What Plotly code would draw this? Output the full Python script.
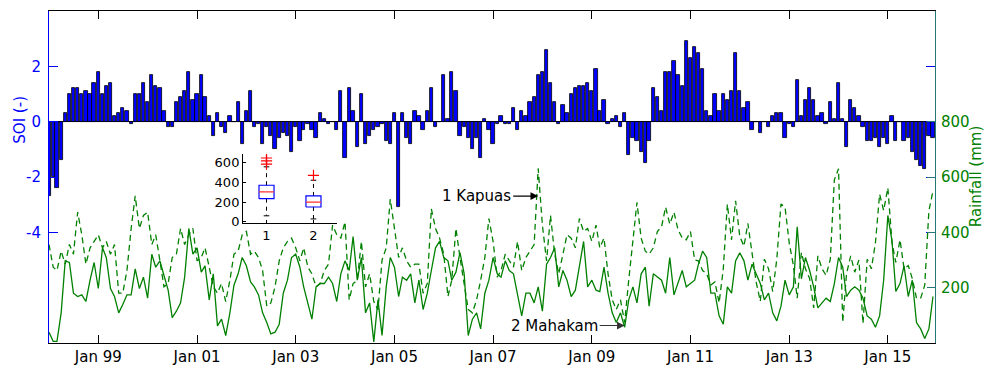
import plotly.graph_objects as go
import pandas as pd

# ---------------- data ----------------
dates = pd.date_range("1998-01-01", periods=216, freq="MS")

soi = [
    -2.7, -2.0, -2.4, -1.4, 0.3, 1.0, 1.2, 1.2, 1.0, 1.1, 1.0, 1.4,      # 1998
    1.8, 1.0, 1.3, 1.4, 0.2, 0.3, 0.5, 0.4, -0.1, 1.0, 1.0, 1.4,         # 1999
    0.7, 1.7, 1.3, 1.2, 0.4, -0.2, -0.2, 0.7, 0.9, 1.1, 1.8, 0.8,        # 2000
    1.0, 1.7, 0.9, 0.2, -0.5, 0.3, -0.2, -0.4, 0.2, 0.0, 0.7, -0.8,      # 2001
    0.4, 1.1, -0.2, -0.1, -0.8, -0.2, -0.5, -1.0, -0.6, -0.4, -0.5, -1.1,  # 2002
    -0.2, -0.7, -0.3, -0.1, -0.3, -0.6, 0.3, 0.1, -0.1, 0.0, -0.3, 1.1,  # 2003
    -1.3, 1.2, 0.4, -0.9, 1.0, -0.8, -0.5, -0.3, -0.2, -0.1, -0.7, -0.8,  # 2004
    0.3, -3.1, 0.3, -0.6, -0.8, 0.4, 0.2, -0.3, 0.4, 1.2, -0.2, 0.0,     # 2005
    1.7, 0.1, 1.8, 1.1, -0.5, -0.2, -0.6, -1.0, -0.6, -1.3, 0.1, -0.3,   # 2006
    -0.8, -0.1, 0.2, -0.1, -0.1, 0.5, -0.3, 0.4, 0.2, 0.7, 0.9, 1.7,     # 2007
    1.8, 2.6, 1.4, 0.7, -0.1, 0.6, 0.3, 1.0, 1.2, 1.3, 1.3, 1.4,         # 2008
    1.1, 1.9, 0.4, 0.8, -0.1, 0.1, 0.2, -0.2, 0.3, -1.2, -0.6, -0.7,     # 2009
    -1.1, -1.5, -0.7, 1.2, 0.9, 0.4, 1.8, 1.8, 2.2, 1.7, 1.3, 2.9,       # 2010
    2.3, 2.7, 2.5, 1.9, 0.4, 0.2, 1.0, 0.4, 1.0, 0.8, 1.1, 2.5,          # 2011
    1.1, 0.5, 0.7, -0.3, 0.0, -0.4, 0.0, -0.2, 0.2, 0.3, 0.3, -0.6,      # 2012
    -0.1, -0.2, 1.5, 0.2, 0.8, 1.2, 0.8, 0.2, 0.3, -0.1, 0.7, 0.1,       # 2013
    1.4, 0.1, -0.9, 0.8, 0.5, 0.2, -0.2, -0.7, -0.7, -0.6, -0.9, -0.6,   # 2014
    -0.8, 0.2, -0.7, 0.0, -0.7, -0.6, -1.1, -1.4, -1.6, -1.7, -0.5, -0.6,  # 2015
]

kapuas = [
    356, 274, 262, 332, 285, 356, 321, 473, 391, 285, 344, 367,
    391, 344, 367, 321, 356, 180, 180, 262, 414, 532, 414, 461,
    473, 356, 391, 297, 203, 215, 309, 321, 414, 356, 391, 414,
    297, 309, 344, 274, 203, 180, 215, 150, 227, 321, 332, 391,
    403, 321, 332, 309, 262, 133, 145, 203, 297, 344, 367, 379,
    344, 297, 344, 274, 250, 203, 215, 262, 285, 426, 391, 379,
    438, 156, 215, 227, 367, 203, 250, 150, 120, 300, 344, 520,
    414, 309, 344, 297, 274, 285, 285, 180, 215, 485, 414, 379,
    321, 168, 227, 414, 309, 215, 121, 109, 156, 227, 309, 450,
    367, 238, 262, 321, 297, 274, 367, 262, 309, 332, 356, 631,
    426, 297, 461, 321, 250, 321, 391, 379, 344, 450, 403, 414,
    367, 426, 344, 379, 250, 156, 121, 156, 74, 227, 379, 508,
    379, 332, 321, 344, 403, 420, 491, 430, 473, 409, 380, 373,
    403, 300, 297, 262, 250, 210, 221, 145, 268, 502, 373, 514,
    385, 350, 432, 327, 221, 151, 303, 268, 186, 303, 502, 491,
    362, 280, 162, 327, 268, 233, 127, 315, 268, 244, 303, 590,
    630, 75, 250, 315, 256, 300, 70, 303, 268, 362, 538, 479,
    561, 362, 291, 373, 268, 280, 233, 162, 162, 209, 479, 549,
]

mahakam = [
    39, 6, 6, 109, 297, 291, 180, 168, 174, 150, 227, 291,
    197, 344, 309, 197, 168, 109, 139, 174, 174, 268, 197, 238,
    162, 321, 274, 297, 244, 191, 92, 115, 145, 238, 414, 321,
    344, 256, 279, 156, 250, 62, 86, 27, 109, 209, 250, 309,
    279, 221, 203, 174, 109, 74, 33, 39, 68, 180, 227, 309,
    321, 274, 203, 145, 86, 203, 215, 215, 238, 215, 150, 250,
    297, 262, 385, 227, 309, 109, 145, 4, 156, 27, 203, 309,
    274, 168, 238, 227, 250, 145, 227, 121, 180, 262, 344, 367,
    309, 297, 227, 256, 327, 250, 27, 86, 109, 51, 180, 227,
    309, 250, 238, 297, 262, 250, 180, 98, 180, 180, 145, 203,
    115, 285, 309, 344, 203, 262, 227, 168, 191, 285, 367, 203,
    227, 191, 186, 274, 180, 109, 74, 109, 57, 156, 203, 145,
    250, 274, 133, 250, 238, 227, 180, 309, 174, 215, 262, 203,
    215, 227, 285, 332, 309, 180, 180, 98, 68, 203, 180, 297,
    326, 297, 227, 285, 250, 215, 156, 180, 109, 80, 133, 227,
    174, 203, 420, 232, 309, 262, 203, 127, 145, 162, 150, 215,
    309, 274, 168, 191, 203, 191, 162, 98, 86, 57, 98, 227,
    461, 367, 186, 215, 279, 168, 227, 74, 51, 16, 51, 168,
]

assert len(soi) == len(kapuas) == len(mahakam) == len(dates)

tick_dates = ["1999-01-01", "2001-01-01", "2003-01-01", "2005-01-01",
              "2007-01-01", "2009-01-01", "2011-01-01", "2013-01-01", "2015-01-01"]
tick_labels = ["Jan 99", "Jan 01", "Jan 03", "Jan 05", "Jan 07",
               "Jan 09", "Jan 11", "Jan 13", "Jan 15"]

soi_ticks = [-4, -2, 0, 2]
soi_tick_labels = ["-4", "-2", "0", "2"]
rain_ticks = [200, 400, 600, 800]

# inset boxplot statistics (1 = Kapuas, 2 = Mahakam)
box_pos = [1, 2]
box_low = [60, 28]
box_q1 = [235, 150]
box_med = [305, 200]
box_q3 = [372, 263]
box_high = [560, 423]
outlier_pos = [1, 1, 1, 2]
outlier_val = [587, 620, 650, 472]

# ---------------- styles ----------------
FONT = "DejaVu Sans"
BLUE = "#0000ff"
GREEN = "#008000"
RIGHT_LINE = "#23797a"
BOX_HW = 0.16
CAP_HW = 0.06
month_ms = 30.44 * 86400000

fig = go.Figure()

fig.add_trace(go.Bar(
    x=dates, y=soi, width=0.8 * month_ms,
    marker=dict(color=BLUE, line=dict(color="black", width=0.8)),
    xaxis="x", yaxis="y", showlegend=False,
))

fig.add_trace(go.Scatter(
    x=dates, y=kapuas, mode="lines",
    line=dict(color=GREEN, width=1.3, dash="6px,4px"),
    xaxis="x", yaxis="y2", showlegend=False,
))
fig.add_trace(go.Scatter(
    x=dates, y=mahakam, mode="lines",
    line=dict(color=GREEN, width=1.3),
    xaxis="x", yaxis="y2", showlegend=False,
))

# inset boxplot built from the statistics
for p, lo, q1, md, q3, hi in zip(box_pos, box_low, box_q1, box_med, box_q3, box_high):
    fig.add_trace(go.Scatter(
        x=[p, p, None, p, p], y=[q3, hi, None, q1, lo], mode="lines",
        line=dict(color="black", width=1, dash="4px,4px"),
        xaxis="x3", yaxis="y3", showlegend=False,
    ))
    fig.add_trace(go.Scatter(
        x=[p - CAP_HW, p + CAP_HW, None, p - CAP_HW, p + CAP_HW],
        y=[hi, hi, None, lo, lo], mode="lines",
        line=dict(color="black", width=1),
        xaxis="x3", yaxis="y3", showlegend=False,
    ))
    fig.add_trace(go.Scatter(
        x=[p - BOX_HW, p + BOX_HW, p + BOX_HW, p - BOX_HW, p - BOX_HW],
        y=[q1, q1, q3, q3, q1], mode="lines",
        line=dict(color=BLUE, width=1.2),
        xaxis="x3", yaxis="y3", showlegend=False,
    ))
    fig.add_trace(go.Scatter(
        x=[p - BOX_HW, p + BOX_HW], y=[md, md], mode="lines",
        line=dict(color="#ff3030", width=1.2),
        xaxis="x3", yaxis="y3", showlegend=False,
    ))

fig.add_trace(go.Scatter(
    x=outlier_pos, y=outlier_val, mode="markers",
    marker=dict(symbol="cross-thin", size=8, line=dict(color="red", width=1.2)),
    xaxis="x3", yaxis="y3", showlegend=False,
))

# annotations
kap_idx = 119
mah_idx = 140
annos = [
    dict(x=dates[kap_idx], y=531, xref="x", yref="y2", text="1 Kapuas",
         showarrow=True, ax=-25, ay=0, xanchor="right",
         arrowhead=2, arrowsize=1.4, arrowwidth=1.1, arrowcolor="black",
         font=dict(family=FONT, size=15, color="black")),
    dict(x=dates[mah_idx], y=63, xref="x", yref="y2", text="2 Mahakam",
         showarrow=True, ax=-25, ay=0, xanchor="right",
         arrowhead=2, arrowsize=1.4, arrowwidth=1.1, arrowcolor="#333333",
         font=dict(family=FONT, size=15, color="black")),
    dict(x=-0.033, y=0.672, xref="paper", yref="paper", text="SOI (-)",
         showarrow=False, textangle=-90, xanchor="center", yanchor="middle",
         font=dict(family=FONT, size=15, color=BLUE)),
    dict(x=1.0465, y=0.50, xref="paper", yref="paper", text="Rainfall (mm)",
         showarrow=False, textangle=-90, xanchor="center", yanchor="middle",
         font=dict(family=FONT, size=15, color=GREEN)),
]

fig.update_layout(
    width=987, height=376,
    margin=dict(l=49, r=52, t=10, b=25),
    paper_bgcolor="white", plot_bgcolor="white",
    showlegend=False, bargap=0,
    font=dict(family=FONT, size=15, color="black"),
    annotations=annos,
    xaxis=dict(
        type="date", domain=[0, 1],
        range=["1998-01-01", "2015-12-16"],
        tickvals=tick_dates, ticktext=tick_labels,
        ticks="inside", ticklen=8, tickcolor="black",
        showline=True, linecolor="black", linewidth=1, mirror="ticks",
        showgrid=False, zeroline=False,
        tickfont=dict(family=FONT, size=15, color="black"),
    ),
    yaxis=dict(
        range=[-8, 4], tickvals=soi_ticks, ticktext=soi_tick_labels,
        ticks="inside", ticklen=9, tickcolor=BLUE,
        showline=True, linecolor=BLUE, linewidth=1, mirror="ticks",
        showgrid=False, zeroline=True, zerolinecolor="black", zerolinewidth=1,
        tickfont=dict(family=FONT, size=15, color=BLUE),
        ticklabelstandoff=4,
    ),
    yaxis2=dict(
        overlaying="y", side="right", anchor="x",
        range=[0, 1200], tickvals=rain_ticks,
        ticks="inside", ticklen=8, tickcolor=RIGHT_LINE,
        showline=True, linecolor=RIGHT_LINE, linewidth=1,
        showgrid=False, zeroline=False,
        tickfont=dict(family=FONT, size=15, color=GREEN),
        ticklabelstandoff=2,
    ),
    xaxis3=dict(
        domain=[0.219, 0.325], anchor="y3", range=[0.5, 2.5],
        tickvals=box_pos, ticktext=[str(p) for p in box_pos],
        ticks="inside", ticklen=3, tickcolor="black",
        showline=True, linecolor="black", linewidth=1,
        showgrid=False, zeroline=False,
        tickfont=dict(family=FONT, size=13, color="black"),
    ),
    yaxis3=dict(
        domain=[0.361, 0.569], anchor="x3", range=[-15, 690],
        tickvals=[0, 200, 400, 600],
        ticks="inside", ticklen=3, tickcolor="black",
        showline=True, linecolor="black", linewidth=1,
        showgrid=False, zeroline=False,
        tickfont=dict(family=FONT, size=13, color="black"),
    ),
)

fig.write_html("out.html")
